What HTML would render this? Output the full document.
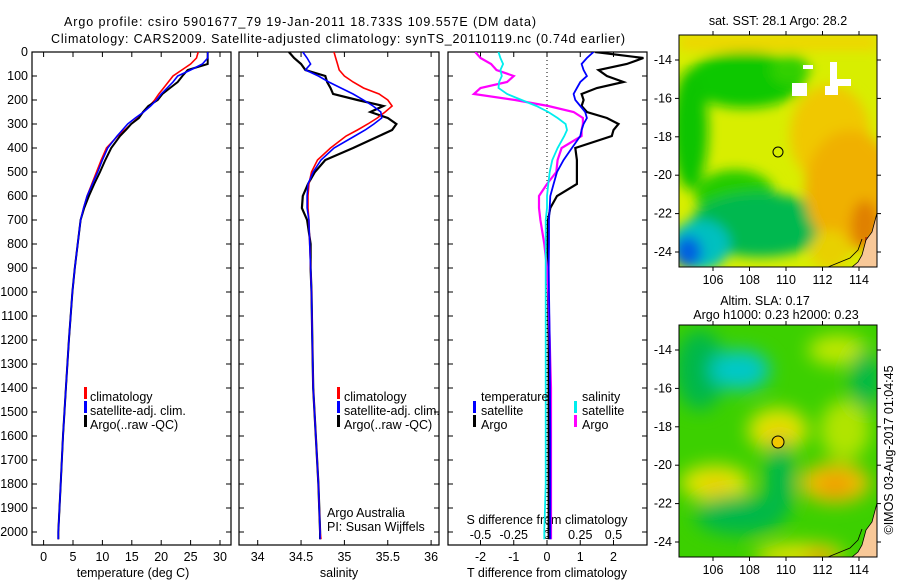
<!DOCTYPE html>
<html><head><meta charset="utf-8"><style>
html,body{margin:0;padding:0;background:#fff;}
svg{display:block;font-family:"Liberation Sans",sans-serif;}
text{font-size:12.5px;fill:#000;}
</style></head><body>
<svg id="fig" width="900" height="580" viewBox="0 0 900 580">
<defs>
<filter id="blur1" x="-20%" y="-20%" width="140%" height="140%"><feGaussianBlur stdDeviation="6"/></filter>
<filter id="blur2" x="-20%" y="-20%" width="140%" height="140%"><feGaussianBlur stdDeviation="9"/></filter>
<clipPath id="clipTop"><rect x="679" y="35" width="198" height="232"/></clipPath>
<clipPath id="clipBot"><rect x="679" y="325" width="198" height="232"/></clipPath>
<clipPath id="clipP1"><rect x="32" y="52" width="199" height="493"/></clipPath>
<clipPath id="clipP2"><rect x="239" y="52" width="200" height="493"/></clipPath>
<clipPath id="clipP3"><rect x="448" y="52" width="199" height="493"/></clipPath>
</defs>
<text x="300" y="26" text-anchor="middle" textLength="472">Argo profile: csiro 5901677_79 19-Jan-2011 18.733S 109.557E (DM data)</text>
<text x="338" y="43" text-anchor="middle" textLength="574">Climatology: CARS2009. Satellite-adjusted climatology: synTS_20110119.nc (0.74d earlier)</text>
<g id="panels"></g>

<!-- top map -->
<g>
<text x="778" y="25" text-anchor="middle">sat. SST: 28.1 Argo: 28.2</text>
<g clip-path="url(#clipTop)">
<rect x="679" y="35" width="198" height="232" fill="#d8ee00"/>
<g filter="url(#blur1)">
<rect x="679" y="35" width="198" height="15" fill="#f0d400"/>
<ellipse cx="745" cy="80" rx="60" ry="28" fill="#10c800"/>
<ellipse cx="690" cy="130" rx="18" ry="60" fill="#10c400"/>
<ellipse cx="735" cy="195" rx="40" ry="25" fill="#20cc00"/>
<ellipse cx="760" cy="225" rx="70" ry="32" fill="#00b850"/>
<ellipse cx="700" cy="245" rx="30" ry="25" fill="#00c0c0"/>
<ellipse cx="688" cy="252" rx="14" ry="16" fill="#0060e0"/>
<ellipse cx="830" cy="135" rx="40" ry="50" fill="#f0c800"/>
<ellipse cx="850" cy="190" rx="45" ry="60" fill="#f0b000"/>
<ellipse cx="865" cy="225" rx="14" ry="25" fill="#e08000"/>
<ellipse cx="830" cy="250" rx="20" ry="20" fill="#e8d000"/>
<ellipse cx="790" cy="70" rx="20" ry="15" fill="#30d000"/>
</g>
<rect x="865" y="237" width="12" height="12" fill="#c04000"/>
<rect x="792" y="83" width="15" height="13" fill="#fff"/>
<rect x="803" y="65" width="10" height="4" fill="#fff"/>
<path d="M830 62h7v17h14v7h-13v9h-13v-9h5z" fill="#fff"/>
<path d="M877 213 L872 232 L866 240 L862 255 L858 262 L852 267 L877 267Z" fill="#f8c898" stroke="#000" stroke-width="0.8"/>
<path d="M862 239 L858 250 L850 258 L828 267" fill="none" stroke="#000" stroke-width="0.8"/>
</g>
<rect x="679" y="35" width="198" height="232" fill="none" stroke="#000"/>
<circle cx="778" cy="152" r="5" fill="none" stroke="#000"/>
<g id="mapTopAxes"></g>
</g>

<!-- bottom map -->
<g>
<text x="765" y="305" text-anchor="middle">Altim. SLA: 0.17</text>
<text x="776" y="319" text-anchor="middle">Argo h1000: 0.23 h2000: 0.23</text>
<g clip-path="url(#clipBot)">
<rect x="679" y="325" width="198" height="232" fill="#3cd000"/>
<g filter="url(#blur2)">
<ellipse cx="700" cy="370" rx="25" ry="40" fill="#00b848"/>
<ellipse cx="740" cy="370" rx="30" ry="20" fill="#00c8c8"/>
<ellipse cx="838" cy="350" rx="30" ry="15" fill="#c0e800"/>
<ellipse cx="865" cy="380" rx="15" ry="30" fill="#00b848"/>
<ellipse cx="778" cy="430" rx="30" ry="22" fill="#e0e400"/>
<ellipse cx="778" cy="437" rx="14" ry="10" fill="#f0c800"/>
<ellipse cx="845" cy="430" rx="25" ry="30" fill="#b0e400"/>
<ellipse cx="715" cy="483" rx="35" ry="18" fill="#e0e400"/>
<ellipse cx="715" cy="485" rx="12" ry="8" fill="#f0c800"/>
<ellipse cx="835" cy="483" rx="35" ry="20" fill="#f0c000"/>
<ellipse cx="835" cy="485" rx="18" ry="10" fill="#f09800"/>
<ellipse cx="740" cy="515" rx="45" ry="20" fill="#00b848"/>
<ellipse cx="780" cy="480" rx="15" ry="40" fill="#00b848"/>
<ellipse cx="800" cy="555" rx="45" ry="12" fill="#e0e000"/>
<ellipse cx="820" cy="557" rx="15" ry="8" fill="#f0a000"/>
</g>
<path d="M877 503 L872 522 L866 530 L862 545 L858 552 L852 557 L877 557Z" fill="#f8c898" stroke="#000" stroke-width="0.8"/>
<path d="M862 529 L858 540 L850 548 L828 557" fill="none" stroke="#000" stroke-width="0.8"/>
</g>
<rect x="679" y="325" width="198" height="232" fill="none" stroke="#000"/>
<circle cx="778" cy="442" r="6" fill="#f0c800" stroke="#000"/>
<g id="mapBotAxes"></g>
</g>
<text transform="translate(893,450) rotate(-90)" text-anchor="middle">©IMOS 03-Aug-2017 01:04:45</text>
</svg>
<script>
// ---- data ----
const depths = [0,25,50,75,100,125,150,175,200,225,250,275,300,325,350,400,450,500,550,600,650,700,800,900,1000,1200,1400,1600,1800,2000,2030];
const tempClim = [26.3,26.0,25.0,23.5,22.0,21.2,20.4,19.6,18.9,18.0,17.0,16.0,14.9,13.8,12.6,10.7,9.8,9.0,8.2,7.4,6.8,6.3,5.8,5.3,4.9,4.3,3.8,3.3,2.9,2.5,2.5];
const tempSat  = [27.9,27.9,27.0,25.0,22.8,22.0,21.0,20.0,19.2,18.2,17.0,15.6,14.3,13.4,12.5,10.9,10.0,9.2,8.3,7.4,6.8,6.3,5.8,5.3,4.9,4.3,3.8,3.3,2.9,2.5,2.5];
const tempArgo = [27.9,27.9,27.9,24.5,23.6,22.8,21.5,20.2,19.4,17.8,16.9,16.2,14.9,14.0,13.0,11.5,10.5,9.6,8.6,7.7,6.9,6.3,5.8,5.3,4.9,4.3,3.8,3.3,2.9,2.5,2.5];
const salClim = [34.88,34.9,34.92,34.94,35.0,35.1,35.22,35.4,35.5,35.55,35.47,35.38,35.27,35.15,35.02,34.84,34.69,34.62,34.59,34.58,34.58,34.59,34.6,34.61,34.62,34.63,34.64,34.67,34.7,34.72,34.73];
const salSat  = [34.52,34.57,34.61,34.55,34.7,34.82,34.96,35.1,35.22,35.33,35.42,35.43,35.34,35.24,35.12,34.88,34.73,34.64,34.58,34.57,34.57,34.59,34.6,34.61,34.62,34.63,34.64,34.67,34.7,34.72,34.72];
const salArgo = [34.36,34.42,34.5,34.55,34.78,34.8,34.84,34.87,35.15,35.45,35.3,35.5,35.6,35.55,35.4,35.1,34.78,34.66,34.58,34.52,34.51,34.57,34.61,34.61,34.62,34.63,34.64,34.67,34.7,34.72,34.72];
const dTSat  = [1.4,1.2,1.04,1.1,1.2,1.0,0.9,0.8,0.85,1.0,1.15,1.2,1.1,1.04,1.0,0.75,0.5,0.3,0.2,0.1,0.08,0.06,0.06,0.05,0.06,0.08,0.09,0.1,0.1,0.1,0.1];
const dTArgo = [1.45,2.9,2.4,1.55,1.8,2.3,1.5,1.04,1.1,1.04,1.2,1.8,2.15,2.0,1.95,0.85,0.9,0.9,0.9,0.3,0.1,0.03,0.02,0.02,0.03,0.05,0.05,0.05,0.05,0.05,0.05];
const dSSat  = [-0.365,-0.35,-0.33,-0.35,-0.34,-0.36,-0.365,-0.3,-0.19,-0.08,0.01,0.08,0.14,0.15,0.13,0.08,0.04,0.02,0.01,0.0,0.0,-0.01,-0.01,-0.01,-0.01,-0.01,-0.01,-0.01,-0.01,-0.02,-0.02];
const dSArgo = [-0.54,-0.5,-0.42,-0.38,-0.25,-0.3,-0.5,-0.55,-0.24,0.01,0.2,0.27,0.27,0.26,0.26,0.11,0.08,0.07,0.0,-0.06,-0.06,-0.05,-0.02,0.0,0.01,0.02,0.03,0.03,0.03,0.03,0.03];
const depthTicks = [0,100,200,300,400,500,600,700,800,900,1000,1100,1200,1300,1400,1500,1600,1700,1800,1900,2000];
const tempTicks = [0,5,10,15,20,25,30];
const salTicks = [34,34.5,35,35.5,36];
const tDiffTicks = [-2,-1,0,1,2];
const sDiffTicks = [-0.5,-0.25,0,0.25,0.5];
const lonTicks = [106,108,110,112,114];
const latTicks = [-14,-16,-18,-20,-22,-24];

// ---- scales ----
const yD = d => 52 + d*0.24;
const xT = t => 43.6 + t*5.88;
const xS = s => 257.7 + (s-34)*86.7;
const xDT = v => 547 + v*33.25;
const xDS = v => 547 + v*133;
const xLon = l => 713 + (l-106)*18.25;
const yLat = a => 60 + (-14-a)*19.2;

const NS='http://www.w3.org/2000/svg';
const root=document.getElementById('panels');
function mk(tag,attrs,parent){const e=document.createElementNS(NS,tag);for(const k in attrs)e.setAttribute(k,attrs[k]);(parent||root).appendChild(e);return e;}
function line(vals,xf,color,w,name,clip,parent){
  const pts=vals.map((v,i)=>xf(v).toFixed(1)+','+yD(depths[i]).toFixed(1)).join(' ');
  const p=mk('polyline',{points:pts,fill:'none',stroke:color,'stroke-width':w,'clip-path':'url(#'+clip+')'},parent);
  
  
}
function frame(x0,x1,name){
  const g=mk('g',{});
  
  
  mk('rect',{x:x0,y:52,width:x1-x0,height:493,fill:'none',stroke:'#000','stroke-width':1.2},g);
  depthTicks.forEach(d=>{
    mk('line',{x1:x0,x2:x0+5,y1:yD(d),y2:yD(d),stroke:'#000'},g);
    mk('line',{x1:x1-5,x2:x1,y1:yD(d),y2:yD(d),stroke:'#000'},g);
  });
  return g;
}
function xticks(g,ticks,xf,labels){
  ticks.forEach(t=>{
    mk('line',{x1:xf(t),x2:xf(t),y1:545,y2:540,stroke:'#000'},g);
    mk('line',{x1:xf(t),x2:xf(t),y1:52,y2:57,stroke:'#000'},g);
    if(labels){const tx=mk('text',{x:xf(t),y:561,'text-anchor':'middle'},g);tx.textContent=String(t);
      
      }
  });
}
function txt(g,x,y,s,name,anchor){const t=mk('text',{x:x,y:y,'text-anchor':anchor||'start'},g);t.textContent=s;
  
  return t;}
function legendBar(g,x,y,color){const r=mk('rect',{x:x,y:y-10,width:3,height:12,fill:color},g);
  
  }

// panel 1 temperature
let g1=frame(32,231,'temperature-panel');
depthTicks.forEach(d=>{const t=txt(g1,28,yD(d)+4,String(d),'y-tick-label','end');});
xticks(g1,tempTicks,xT,true);
txt(g1,133,577,'temperature (deg C)','x-axis-title','middle');
line(tempClim,xT,'#f00',1.6,'temp-climatology-line','clipP1',g1);
line(tempArgo,xT,'#000',2,'temp-argo-line','clipP1',g1);
line(tempSat,xT,'#00f',1.6,'temp-satellite-line','clipP1',g1);
[['#f00','climatology'],['#00f','satellite-adj. clim.'],['#000','Argo(..raw -QC)']].forEach((l,i)=>{legendBar(g1,84,397+i*14,l[0]);txt(g1,90,401+i*14,l[1],'legend-entry');});

// panel 2 salinity
let g2=frame(239,439,'salinity-panel');
xticks(g2,salTicks,xS,true);
txt(g2,339,577,'salinity','x-axis-title','middle');
line(salArgo,xS,'#000',2.2,'sal-argo-line','clipP2',g2);
line(salClim,xS,'#f00',1.6,'sal-climatology-line','clipP2',g2);
line(salSat,xS,'#00f',1.6,'sal-satellite-line','clipP2',g2);
[['#f00','climatology'],['#00f','satellite-adj. clim.'],['#000','Argo(..raw -QC)']].forEach((l,i)=>{legendBar(g2,337,397+i*14,l[0]);txt(g2,344,401+i*14,l[1],'legend-entry');});
txt(g2,327,517,'Argo Australia','credit-text');
txt(g2,327,531,'PI: Susan Wijffels','credit-text');

// panel 3 differences
let g3=frame(448,647,'difference-panel');
const zl=mk('line',{x1:xDT(0),x2:xDT(0),y1:52,y2:545,stroke:'#000','stroke-dasharray':'1,3'},g3);


xticks(g3,tDiffTicks,xDT,true);
sDiffTicks.forEach(t=>{const tx=txt(g3,xDS(t),539,String(t),'s-tick-label','middle');});
txt(g3,547,524,'S difference from climatology','s-axis-title','middle');
txt(g3,547,577,'T difference from climatology','x-axis-title','middle');
line(dTArgo,xDT,'#000',2.2,'tdiff-argo-line','clipP3',g3);
line(dSArgo,xDS,'#f0f',2.2,'sdiff-argo-line','clipP3',g3);
line(dTSat,xDT,'#00f',1.8,'tdiff-satellite-line','clipP3',g3);
line(dSSat,xDS,'#0ee',1.8,'sdiff-satellite-line','clipP3',g3);
txt(g3,481,401,'temperature','legend-title');
txt(g3,582,401,'salinity','legend-title');
legendBar(g3,473,411,'#00f');txt(g3,481,415,'satellite','legend-entry');
legendBar(g3,473,425,'#000');txt(g3,481,429,'Argo','legend-entry');
legendBar(g3,574,411,'#0ee');txt(g3,582,415,'satellite','legend-entry');
legendBar(g3,574,425,'#f0f');txt(g3,582,429,'Argo','legend-entry');

// map axes
function mapAxes(id,y0,y1,off){
  const g=document.getElementById(id);
  lonTicks.forEach(l=>{
    mk('line',{x1:xLon(l),x2:xLon(l),y1:y1,y2:y1+4,stroke:'#000'},g);
    mk('line',{x1:xLon(l),x2:xLon(l),y1:y0,y2:y0-4,stroke:'#000'},g);
    txt(g,xLon(l),y1+17,String(l),'map-lon-label','middle');
  });
  latTicks.forEach(a=>{
    const y=yLat(a)+off;
    mk('line',{x1:675,x2:679,y1:y,y2:y,stroke:'#000'},g);
    mk('line',{x1:877,x2:881,y1:y,y2:y,stroke:'#000'},g);
    txt(g,672,y+4,String(a),'map-lat-label','end');
  });
}
mapAxes('mapTopAxes',35,267,0);
mapAxes('mapBotAxes',325,557,290);
</script>
</body></html>
